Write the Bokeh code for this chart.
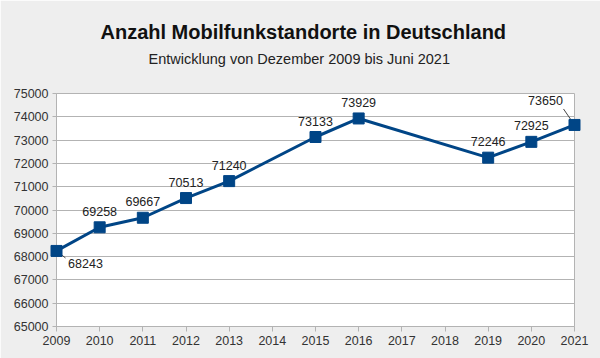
from bokeh.plotting import figure
from bokeh.models import Range1d, FixedTicker, Title, ColumnDataSource, LabelSet
from bokeh.embed import file_html
from bokeh.resources import INLINE
from bokeh.core.properties import value

# ---- data ----
years = [2009, 2010, 2011, 2012, 2013, 2015, 2016, 2019, 2020, 2021]
sites = [68243, 69258, 69667, 70513, 71240, 73133, 73929, 72246, 72925, 73650]
x_ticks = list(range(2009, 2022))
y_ticks = list(range(65000, 75001, 1000))
title_text = "Anzahl Mobilfunkstandorte in Deutschland"
subtitle_text = "Entwicklung von Dezember 2009 bis Juni 2021"

# ---- label placement (style, screen px) ----
lab_dx = [29, 0, 0, 0, 0, 0, 0, 0, 0, -29]
lab_dy = [-13, 16, 16, 16, 16, 16, 16, 16, 16, 24]

FONT = "Liberation Sans"
BLUE = "#004586"
GRAY = "#b3b3b3"
TXT = "#222222"

W, H = 600, 358
p = figure(width=W, height=H, output_backend="svg", toolbar_location=None,
           x_range=Range1d(2009, 2021), y_range=Range1d(65000, 75000),
           min_border_left=56, min_border_right=26, min_border_top=93,
           min_border_bottom=32, background_fill_color="white",
           border_fill_color="#eeeeee", outline_line_color=GRAY, title=None)

sub = Title(text=subtitle_text, align="left", offset=92, text_font=FONT,
            text_font_size="14.5px", text_font_style="normal", text_color=TXT,
            standoff=53)
main = Title(text=title_text, align="left", offset=44, text_font=FONT,
             text_font_size="20px", text_font_style="bold", text_color="#111111",
             standoff=-40)
p.add_layout(sub, "above")
p.add_layout(main, "above")

p.xgrid.visible = False
p.ygrid.ticker = FixedTicker(ticks=y_ticks)
p.ygrid.grid_line_color = GRAY

p.xaxis.ticker = FixedTicker(ticks=x_ticks)
p.yaxis.ticker = FixedTicker(ticks=y_ticks)
for ax in (p.xaxis, p.yaxis):
    ax.axis_line_color = GRAY
    ax.major_tick_line_color = GRAY
    ax.major_tick_in = 0
    ax.minor_tick_line_color = None
    ax.major_label_text_font = FONT
    ax.major_label_text_font_size = "12.5px"
    ax.major_label_text_color = "#333333"
p.xaxis.major_tick_out = 5
p.xaxis.major_label_standoff = 4
p.yaxis.major_tick_out = 4
p.yaxis.major_label_standoff = 4

# leader lines for the two displaced labels (from point toward label)
px_per_year = 518 / 12.0
px_per_unit = 233 / 10000.0
lead_idx = [0, len(years) - 1]
lead_dx = [9, -11]
lead_dy = [-7, 16]
lx0 = [years[i] for i in lead_idx]
ly0 = [sites[i] for i in lead_idx]
lx1 = [years[i] + d / px_per_year for i, d in zip(lead_idx, lead_dx)]
ly1 = [sites[i] + d / px_per_unit for i, d in zip(lead_idx, lead_dy)]
p.segment(x0=lx0, y0=ly0, x1=lx1, y1=ly1, line_color="#444444", line_width=1)

p.line(years, sites, line_color=BLUE, line_width=3, level="overlay")
p.scatter(years, sites, marker="square", size=11, fill_color=BLUE,
          line_color=BLUE, level="overlay")

src = ColumnDataSource(dict(x=years, y=sites, t=[str(v) for v in sites],
                            dx=lab_dx, dy=lab_dy))
labels = LabelSet(x="x", y="y", text="t", x_offset="dx", y_offset="dy", source=src,
                  text_align="center", text_baseline="middle",
                  text_font=value(FONT), text_font_size="12.5px", text_color=TXT)
p.add_layout(labels)

open("out.html", "w").write(file_html(p, INLINE))
